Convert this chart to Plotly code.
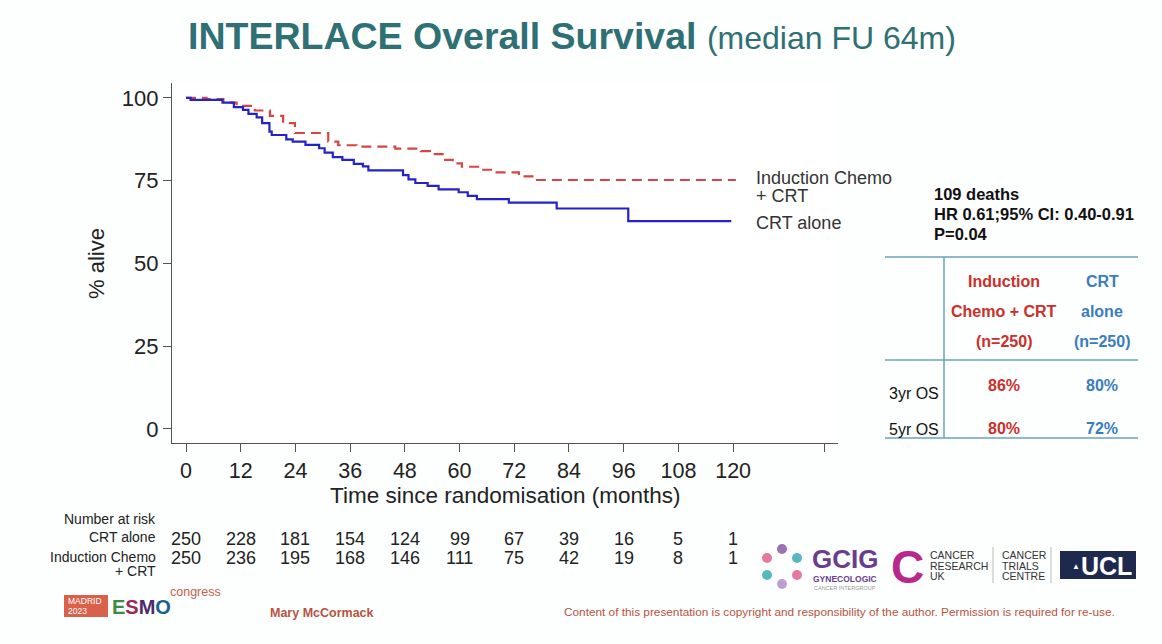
import plotly.graph_objects as go

W, H = 1162, 644

# ---------------- data ----------------
month_ticks = [0, 12, 24, 36, 48, 60, 72, 84, 96, 108, 120]
y_ticks = [0, 25, 50, 75, 100]

crt_t = [0, 1, 8, 10.5, 12.5, 13.7, 15.5, 16.7, 18.3, 18.8, 22, 23.4, 26.2, 29.2,
         30.4, 32.2, 34.3, 36.8, 38.8, 40, 47.6, 48.8, 50.3, 53, 55.4, 59.8, 61.8,
         63.8, 70.8, 81.3, 97, 119.6]
crt_s = [100, 99.4, 98.6, 97.2, 96.4, 95.2, 94.1, 92.4, 89.8, 88.8, 87.5, 86.8, 85.8,
         84.8, 83.5, 82.1, 81.3, 80.1, 79.3, 78.1, 76.7, 75.4, 74.3, 73.4, 72.4, 71.5,
         70.4, 69.4, 68.4, 66.6, 62.8, 62.8]

ind_t = [0, 4.5, 8.2, 11.1, 15.1, 18.4, 21.3, 23.9, 31.2, 33.4, 37.4, 45.9, 51.5,
         53.5, 56.6, 58.5, 60.5, 64.3, 67.4, 73, 76.5, 120.6]
ind_s = [100, 99.6, 98.6, 97.6, 96.2, 94.6, 92.4, 89.4, 86.8, 85.7, 85.3, 84.7, 83.9,
         83.0, 81.3, 80.2, 79.2, 78.3, 77.5, 76.3, 75.2, 75.2]

risk_crt = [250, 228, 181, 154, 124, 99, 67, 39, 16, 5, 1]
risk_ind = [250, 236, 195, 168, 146, 111, 75, 42, 19, 8, 1]

stats_lines = ["109 deaths", "HR 0.61;95% CI: 0.40-0.91", "P=0.04"]
tbl_head_ind = ["Induction", "Chemo + CRT", "(n=250)"]
tbl_head_crt = ["CRT", "alone", "(n=250)"]
tbl_rows = ["3yr OS", "5yr OS"]
tbl_ind = ["86%", "80%"]
tbl_crt = ["80%", "72%"]

# ---------------- styling ----------------
RED = "#d64541"
BLUE = "#2323c8"
TRED = "#cc2f2a"
TBLUE = "#3a7dbf"
TEAL = "#2e7073"
AX = "#555555"
FONT = "Liberation Sans, Arial, sans-serif"


def px(x):
    return x / W


def py(y):
    return 1 - y / H


fig = go.Figure()
fig.add_trace(go.Scatter(x=ind_t, y=ind_s, mode="lines", line_shape="hv",
                         line=dict(color=RED, width=2.2, dash="10px,6px"),
                         hoverinfo="skip", showlegend=False))
fig.add_trace(go.Scatter(x=crt_t, y=crt_s, mode="lines", line_shape="hv",
                         line=dict(color=BLUE, width=2.2),
                         hoverinfo="skip", showlegend=False))

ann = []
shapes = []


def text(x, y, s, size, color="#222", bold=False, xanchor="left",
         yanchor="middle", xref="paper"):
    ann.append(dict(x=x if xref != "paper" else px(x), y=py(y), xref=xref, yref="paper",
                    text=f"<b>{s}</b>" if bold else s, showarrow=False,
                    xanchor=xanchor, yanchor=yanchor,
                    font=dict(size=size, color=color, family=FONT)))


# title
ann.append(dict(x=px(186), y=py(36), xref="paper", yref="paper", showarrow=False,
                xanchor="left", yanchor="middle",
                text="<b>INTERLACE Overall Survival</b> "
                     "<span style='font-size:32px'>(median FU 64m)</span>",
                font=dict(size=37.5, color=TEAL, family=FONT)))

# axis titles
ann.append(dict(x=px(96), y=py(264), xref="paper", yref="paper", showarrow=False,
                text="% alive", textangle=-90, xanchor="center", yanchor="middle",
                font=dict(size=22, color="#222", family=FONT)))
text(505, 495, "Time since randomisation (months)", 22.5, xanchor="center")

# curve labels
text(754, 178, "Induction Chemo", 18, color="#333")
text(754, 196, "+ CRT", 18, color="#333")
text(754, 223, "CRT alone", 18, color="#333")

# number at risk
text(158, 519, "Number at risk", 14, xanchor="right")
text(158, 537, "CRT alone", 14, xanchor="right")
text(158, 557, "Induction Chemo", 14, xanchor="right")
text(158, 571, "+ CRT", 14, xanchor="right")
for m, a, b in zip(month_ticks, risk_crt, risk_ind):
    text(m, 539, str(a), 18, xanchor="center", xref="x")
    text(m, 558, str(b), 18, xanchor="center", xref="x")

# stats block
for i, s in enumerate(stats_lines):
    text(932, 194 + i * 20, s, 16.5, color="#111", bold=True)

LINE_C = "#6ba3b8"
for yy in (257, 360, 438):
    shapes.append(dict(type="line", xref="paper", yref="paper", x0=px(885), x1=px(1138),
                       y0=py(yy), y1=py(yy), line=dict(color=LINE_C, width=1.5)))
shapes.append(dict(type="line", xref="paper", yref="paper", x0=px(944), x1=px(944),
                   y0=py(257), y1=py(438), line=dict(color=LINE_C, width=1.5)))
for i, (a, b) in enumerate(zip(tbl_head_ind, tbl_head_crt)):
    text(1004, 281 + i * 30, a, 16, color=TRED, bold=True, xanchor="center")
    text(1102, 281 + i * 30, b, 16, color=TBLUE, bold=True, xanchor="center")
for i, (r, a, b) in enumerate(zip(tbl_rows, tbl_ind, tbl_crt)):
    text(887, 393 + i * 36, r, 16, color="#111")
    text(1004, 385 + i * 43, a, 16, color=TRED, bold=True, xanchor="center")
    text(1102, 385 + i * 43, b, 16, color=TBLUE, bold=True, xanchor="center")

# footer
text(268, 613, "Mary McCormack", 12.5, color="#b5543f", bold=True)
text(1117, 612, "Content of this presentation is copyright and responsibility of the author. "
     "Permission is required for re-use.", 11.8, color="#b5543f", xanchor="right")

# ESMO logo
shapes.append(dict(type="rect", xref="paper", yref="paper", x0=px(64), x1=px(108),
                   y0=py(617), y1=py(595), fillcolor="#d9604a", line=dict(width=0)))
text(66, 600.5, "MADRID", 8.5, color="white")
text(66, 611, "2023", 8.5, color="white")
ann.append(dict(x=px(110), y=py(607), xref="paper", yref="paper", showarrow=False,
                xanchor="left", yanchor="middle",
                text="<b><span style='color:#3e8a45'>E</span>"
                     "<span style='color:#9a2a52'>S</span>"
                     "<span style='color:#4b2b6e'>M</span>"
                     "<span style='color:#1e5f8a'>O</span></b>",
                font=dict(size=20, family=FONT)))
text(168, 592, "congress", 12.5, color="#c8604a")

# GCIG logo
petals = [(782, 549, "#8a5aa8"), (797, 558, "#3aaab0"), (797, 575, "#e06090"),
          (782, 584, "#b090c8"), (767, 575, "#3aaab0"), (767, 558, "#e06090")]
for cx, cy, col in petals:
    shapes.append(dict(type="circle", xref="paper", yref="paper",
                       x0=px(cx - 5), x1=px(cx + 5), y0=py(cy + 5), y1=py(cy - 5),
                       fillcolor=col, line=dict(width=0), opacity=0.85))
text(845, 559, "GCIG", 26, color="#6a3d8f", bold=True, xanchor="center")
text(845, 579, "GYNECOLOGIC", 8.5, color="#6a3d8f", bold=True, xanchor="center")
text(845, 588, "CANCER INTERGROUP", 5.5, color="#999", xanchor="center")

# Cancer Research UK
text(907, 567, "C", 46, color="#b8288c", bold=True, xanchor="center")
for i, s in enumerate(["CANCER", "RESEARCH", "UK"]):
    text(928, 555 + i * 10.5, s, 10.5, color="#333")
shapes.append(dict(type="line", xref="paper", yref="paper", x0=px(993), x1=px(993),
                   y0=py(547), y1=py(583), line=dict(color="#bbb", width=1)))
for i, s in enumerate(["CANCER", "TRIALS", "CENTRE"]):
    text(1000, 555 + i * 10.5, s, 10.5, color="#333")
shapes.append(dict(type="line", xref="paper", yref="paper", x0=px(1051), x1=px(1051),
                   y0=py(547), y1=py(583), line=dict(color="#bbb", width=1)))

# UCL
shapes.append(dict(type="rect", xref="paper", yref="paper", x0=px(1060), x1=px(1136),
                   y0=py(579), y1=py(551), fillcolor="#1d2a4e", line=dict(width=0)))
text(1076, 566, "▲", 8, color="white", xanchor="center")
text(1106, 566, "UCL", 25, color="white", bold=True, xanchor="center")

fig.update_layout(
    width=W, height=H,
    margin=dict(l=0, r=0, t=0, b=0),
    paper_bgcolor="#fdfefe", plot_bgcolor="#ffffff",
    showlegend=False,
    annotations=ann, shapes=shapes,
    xaxis=dict(domain=[px(172), px(838)], range=[-3.07, 143],
               tickvals=month_ticks + [140], ticktext=[str(m) for m in month_ticks] + [""],
               ticks="outside", ticklen=8, tickwidth=1.2, tickcolor=AX,
               showline=True, linecolor=AX, linewidth=1.2, showgrid=False, zeroline=False,
               tickfont=dict(size=21.5, color="#222", family=FONT), fixedrange=True),
    yaxis=dict(domain=[py(443), py(83)], range=[-4.23, 104.5],
               tickvals=y_ticks, ticks="outside", ticklen=8, tickwidth=1.2, tickcolor=AX,
               showline=True, linecolor=AX, linewidth=1.2, showgrid=False, zeroline=False,
               tickfont=dict(size=22, color="#222", family=FONT), fixedrange=True),
)

fig.write_html("out.html", config={"displayModeBar": False},
               post_script="document.body.style.margin='0';document.body.style.overflow='hidden';")
